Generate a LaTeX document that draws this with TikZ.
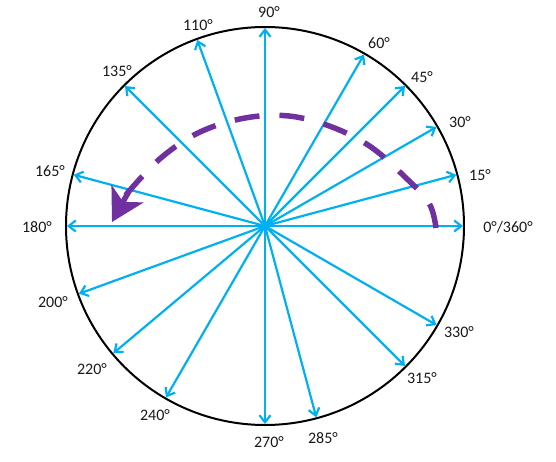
\documentclass[tikz,border=0pt]{standalone}
\usepackage{fontspec}
\setmainfont{Carlito}
\usetikzlibrary{arrows.meta}
\definecolor{raycyan}{HTML}{00B0F0}
\definecolor{turnpurple}{HTML}{7030A0}
\tikzset{
  ray/.style={raycyan, line width=2.2pt, -{Straight Barb[length=7pt,width=11pt]}},
  deg/.style={text=black!90, font=\fontsize{16}{18}\selectfont, inner sep=0pt},
  turn/.style={turnpurple, line width=5.5pt, dash pattern=on 25pt off 20pt},
  turnhead/.style={turnpurple, line width=5.5pt, -{Stealth[length=32pt,width=36pt,inset=9pt]}}
}

\begin{document}
\begin{tikzpicture}[x=1pt,y=1pt]
\useasboundingbox (-265,-235) rectangle (291,226);
\coordinate (O) at (0,0);
\draw[line width=2pt] (O) circle[radius=199pt];
% rays out to the rim
\foreach \a in {0,15,30,45,60,90,110,135,165,180,200,220,240,270,285,315,330} {
  \coordinate (a\a) at (\a:198);
  \draw[ray] (O) -- (a\a);
}
% the turn, counter-clockwise
\draw[turn] plot[smooth, tension=0.6] coordinates {(171,-2) (164,23) (140,49) (106,79) (67,99) (24,110) (-20,108) (-65,94) (-103,69) (-135,36) (-143,24)};
\coordinate (h0) at (-136,35);
\coordinate (h1) at (-153,4);
\draw[turnhead] (h0) -- (h1);
\node[deg] (l0) at (243,-1) {0°/360°};
\node[deg] (l15) at (215,51) {15°};
\node[deg] (l30) at (195,104) {30°};
\node[deg] (l45) at (157,149) {45°};
\node[deg] (l60) at (114,183) {60°};
\node[deg] (l90) at (4,214) {90°};
\node[deg] (l110) at (-67,201) {110°};
\node[deg] (l135) at (-148,155) {135°};
\node[deg] (l165) at (-215,55) {165°};
\node[deg] (l180) at (-228,-1) {180°};
\node[deg] (l200) at (-212,-76) {200°};
\node[deg] (l220) at (-173,-143) {220°};
\node[deg] (l240) at (-110,-189) {240°};
\node[deg] (l270) at (4,-216) {270°};
\node[deg] (l285) at (58,-212) {285°};
\node[deg] (l315) at (157,-152) {315°};
\node[deg] (l330) at (194,-106) {330°};
\end{tikzpicture}
\end{document}
